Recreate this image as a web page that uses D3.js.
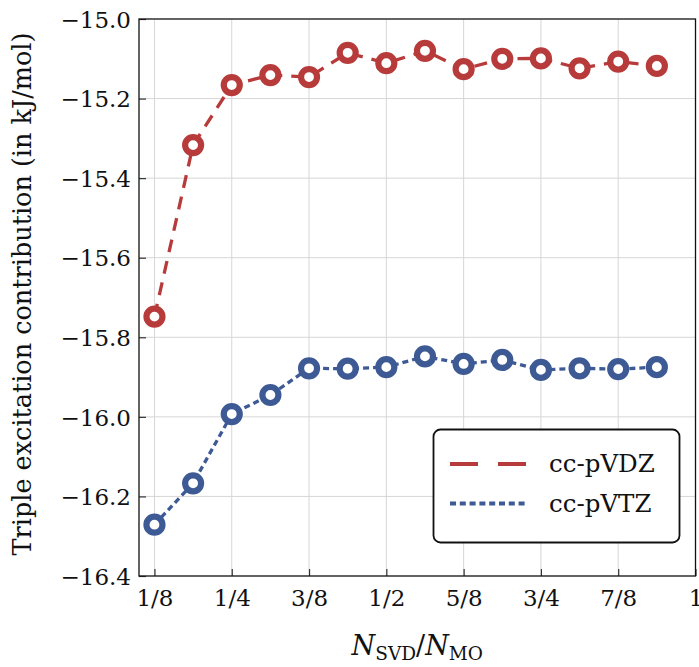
<!DOCTYPE html>
<html><head><meta charset="utf-8">
<script src="https://cdn.jsdelivr.net/npm/d3@7"></script>
<style>body{margin:0;background:#fff}svg{display:block}</style>
</head><body><div id="chart"></div>
<script>
const xValues = [2/16,3/16,4/16,5/16,6/16,7/16,8/16,9/16,10/16,11/16,12/16,13/16,14/16,15/16];
const vdz = [-15.748,-15.317,-15.166,-15.141,-15.146,-15.085,-15.111,-15.080,-15.126,-15.100,-15.099,-15.124,-15.107,-15.118];
const vtz = [-16.271,-16.167,-15.993,-15.945,-15.878,-15.879,-15.875,-15.848,-15.867,-15.857,-15.882,-15.878,-15.880,-15.875];
const xTickValues = [1/8,2/8,3/8,4/8,5/8,6/8,7/8,1];
const xTickLabels = ["1/8","1/4","3/8","1/2","5/8","3/4","7/8","1"];
const yTickValues = [-15.0,-15.2,-15.4,-15.6,-15.8,-16.0,-16.2,-16.4];
const seriesNames = ["cc-pVDZ","cc-pVTZ"];
const colors = ["#b83b3b","#3d5a95"];

const W = 699, H = 667;
const L = 139, R = 695.5, T = 19, B = 576;
const font = "'DejaVu Serif', serif";
const svg = d3.select("#chart").append("svg").attr("width", W).attr("height", H);
const x = d3.scaleLinear().domain([0.1, 1]).range([L, R]);
const y = d3.scaleLinear().domain([-16.4, -15.0]).range([B, T]);

// grid
const grid = svg.append("g").attr("stroke", "#d6d6d6").attr("stroke-width", 1);
grid.selectAll("line.gx").data(xTickValues.slice(0, -1)).join("line")
  .attr("x1", d => x(d)).attr("x2", d => x(d)).attr("y1", T).attr("y2", B);
grid.selectAll("line.gy").data(yTickValues.slice(1, -1)).join("line")
  .attr("x1", L).attr("x2", R).attr("y1", d => y(d)).attr("y2", d => y(d));

// axes
const xAxis = d3.axisBottom(x).tickValues(xTickValues).tickFormat((d, i) => xTickLabels[i])
  .tickSizeInner(-7).tickSizeOuter(0).tickPadding(13);
const gx = svg.append("g").attr("transform", `translate(0,${B})`).call(xAxis);
const yAxis = d3.axisLeft(y).tickValues(yTickValues).tickFormat(d => "\u2212" + Math.abs(d).toFixed(1))
  .tickSizeInner(-7).tickSizeOuter(0).tickPadding(8);
const gy = svg.append("g").attr("transform", `translate(${L},0)`).call(yAxis);
[gx, gy].forEach(g => {
  g.select(".domain").remove();
  g.selectAll(".tick line").attr("stroke", "#333").attr("stroke-width", 1.2);
  g.selectAll(".tick text").attr("font-family", font).attr("font-size", 23).attr("fill", "#111");
});
gy.selectAll(".tick text").attr("dy", "0.36em");
gx.selectAll(".tick text").attr("dy", "0.72em");

// frame
svg.append("rect").attr("x", L).attr("y", T).attr("width", R - L).attr("height", B - T)
  .attr("fill", "none").attr("stroke", "#111").attr("stroke-width", 1.3);

// lines and markers
const series = [vdz, vtz];
const dashes = ["13,9", "6,4"];
const line = d3.line().x(d => x(d[0])).y(d => y(d[1]));
series.forEach((vals, si) => {
  const pts = xValues.map((xv, i) => [xv, vals[i]]);
  svg.append("path").datum(pts).attr("d", line).attr("fill", "none")
    .attr("stroke", colors[si]).attr("stroke-width", 3.3).attr("stroke-dasharray", dashes[si]);
  svg.append("g").selectAll("circle").data(pts).join("circle")
    .attr("cx", d => x(d[0])).attr("cy", d => y(d[1])).attr("r", 8)
    .attr("fill", "#fff").attr("stroke", colors[si]).attr("stroke-width", 6.2);
});

// legend
const lg = svg.append("g");
lg.append("rect").attr("x", 433.5).attr("y", 429.5).attr("width", 246).attr("height", 113).attr("rx", 7)
  .attr("fill", "#fff").attr("stroke", "#111").attr("stroke-width", 1.8);
const legDash = ["28,20", "6,3.8"];
seriesNames.forEach((nm, i) => {
  const ly = 464 + i * 39.5;
  lg.append("line").attr("x1", 450).attr("x2", 527).attr("y1", ly).attr("y2", ly)
    .attr("stroke", colors[i]).attr("stroke-width", 4).attr("stroke-dasharray", legDash[i]);
  lg.append("text").attr("x", 549).attr("y", ly + 8).attr("font-family", font).attr("font-size", 24.5)
    .attr("fill", "#111").text(nm);
});

// y label
svg.append("text").attr("transform", `translate(31,294) rotate(-90)`)
  .attr("text-anchor", "middle").attr("font-family", font).attr("font-size", 25.5).attr("fill", "#111")
  .text("Triple excitation contribution (in kJ/mol)");

// x label
const xl = svg.append("text").attr("x", (L + R) / 2).attr("y", 655).attr("text-anchor", "middle")
  .attr("font-family", font).attr("font-size", 27).attr("fill", "#111");
xl.append("tspan").attr("font-style", "italic").text("N");
xl.append("tspan").attr("font-size", 18.5).attr("dy", 5).text("SVD");
xl.append("tspan").attr("dy", -5).text("/");
xl.append("tspan").attr("font-style", "italic").text("N");
xl.append("tspan").attr("font-size", 18.5).attr("dy", 5).text("MO");
</script></body></html>
